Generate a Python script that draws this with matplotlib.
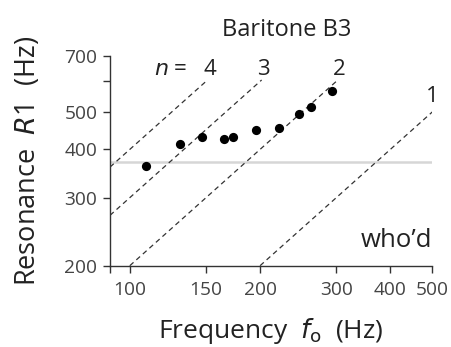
import matplotlib
matplotlib.use("Agg")
import matplotlib.pyplot as plt
import numpy as np

plt.rcParams['font.family'] = ['Open Sans', 'DejaVu Sans']

# Data
f0 = [109, 130.5, 146.5, 165, 173, 195.5, 221, 246, 262, 293]
R1 = [362, 412, 431, 425, 430, 448, 454, 493, 515, 568]
harmonics = [1, 2, 3, 4]
line_top = 605            # upper end of harmonic lines (Hz)
ref_R1 = 372              # horizontal reference line (Hz)
xticks = [100, 150, 200, 300, 400, 500]
yticks = [200, 300, 400, 500, 700]
xlim = (90, 500)
ylim = (200, 700)

fig = plt.figure(figsize=(4.51, 3.47), dpi=100)
ax = fig.add_axes([0.2439, 0.2343, 0.9585 - 0.2439, 0.840 - 0.2343])
ax.set_xscale('log')
ax.set_yscale('log')
ax.set_xlim(*xlim)
ax.set_ylim(*ylim)

col = '#222222'
ax.axhline(ref_R1, color='#d6d6d6', lw=1.8, zorder=1)

for n in harmonics:
    fmin = max(xlim[0], ylim[0] / n)
    fmax = min(xlim[1], line_top / n)
    fs = np.array([fmin, fmax])
    ax.plot(fs, n * fs, ls=(0, (4, 3)), color='#333333', lw=0.9, zorder=2)
    if n == 1:
        ax.text(fmax, 530, str(n), ha='center', va='baseline', fontsize=16, color=col)
    else:
        ax.text(fmax * 1.01, 625, str(n), ha='center', va='baseline', fontsize=16, color=col)

ax.text(136, 625, r'$n$ =', ha='right', va='baseline', fontsize=16,
        color=col, math_fontfamily='dejavusans')

ax.scatter(f0, R1, s=44, color='black', zorder=3, linewidths=0)

for s in ['top', 'right']:
    ax.spines[s].set_visible(False)
for s in ['left', 'bottom']:
    ax.spines[s].set_color('#333333')
    ax.spines[s].set_linewidth(1.0)

ax.set_xticks(xticks + [90])
ax.set_xticklabels([str(t) for t in xticks] + [''])
ax.set_yticks(yticks + [600])
ax.set_yticklabels([str(t) for t in yticks] + [''])
ax.minorticks_off()
ax.tick_params(axis='both', direction='out', length=5, width=1.0, color='#333333',
               labelsize=13.8, labelcolor='#444444')
ax.tick_params(axis='x', pad=6)
ax.tick_params(axis='y', pad=4)

ax.set_xlabel(r'Frequency  $f_{\rm o}$  (Hz)', fontsize=19, color=col, labelpad=12)
ax.set_ylabel(r'Resonance  $R$1  (Hz)', fontsize=19.5, color=col, labelpad=16)
ax.set_title('Baritone B3', fontsize=17, color=col, x=0.547, pad=14)
ax.text(500, 224, "who’d", ha='right', va='baseline', fontsize=18.5, color=col)

fig.savefig('out.png', dpi=100)
